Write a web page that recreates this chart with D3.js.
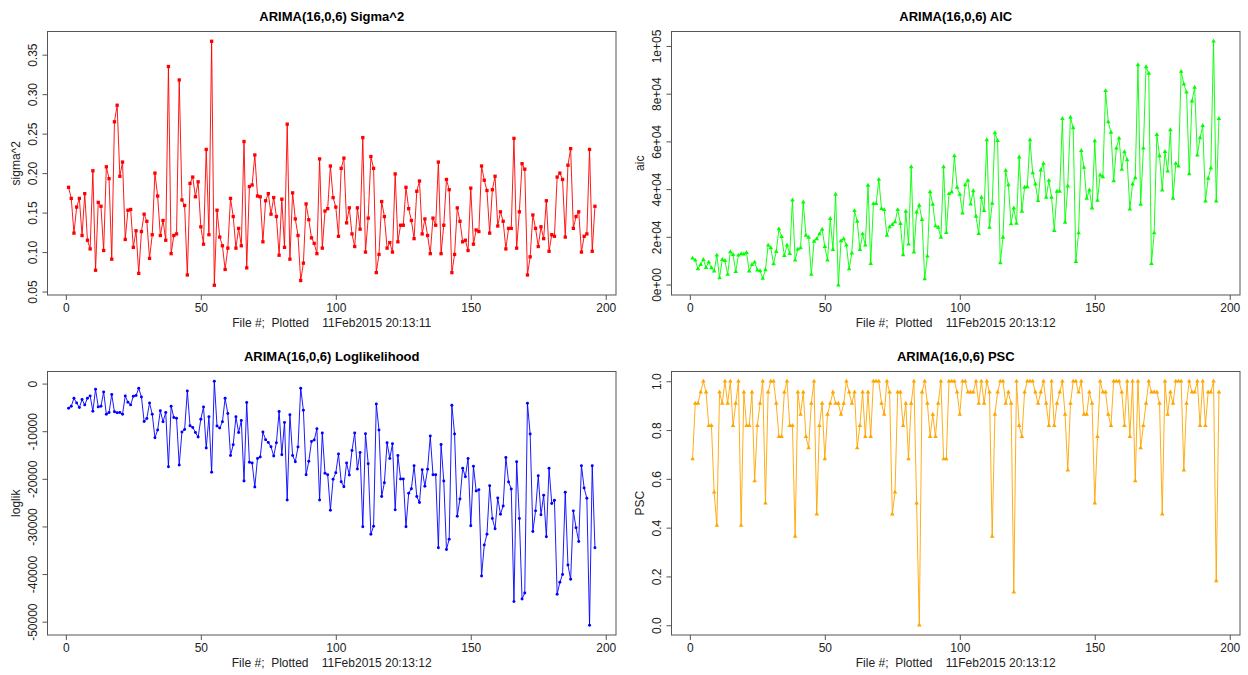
<!DOCTYPE html>
<html>
<head>
<meta charset="utf-8">
<script src="https://cdn.jsdelivr.net/npm/d3@7"></script>
<style>
  body { margin: 0; background: #fff; }
  svg { display: block; font-family: "Liberation Sans", Arial, sans-serif; }
</style>
</head>
<body>
<svg id="chart" width="1248" height="675"></svg>
<script>
'use strict';

// file numbers on the x axis
var fileNums = d3.range(1, 197);
var xTicks = [0, 50, 100, 150, 200];

var sigma2 = [
  0.182, 0.168, 0.124, 0.157, 0.168, 0.121, 0.174, 0.115, 0.104, 0.203,
  0.077, 0.163, 0.158, 0.102, 0.208, 0.193, 0.091, 0.265, 0.286, 0.196,
  0.214, 0.116, 0.153, 0.154, 0.106, 0.127, 0.073, 0.126, 0.148, 0.139,
  0.092, 0.122, 0.200, 0.171, 0.121, 0.140, 0.115, 0.335, 0.098, 0.121,
  0.123, 0.318, 0.166, 0.159, 0.071, 0.187, 0.195, 0.170, 0.189, 0.132,
  0.110, 0.230, 0.122, 0.367, 0.058, 0.153, 0.119, 0.108, 0.078, 0.105,
  0.168, 0.145, 0.105, 0.130, 0.108, 0.240, 0.080, 0.183, 0.185, 0.223,
  0.171, 0.170, 0.113, 0.165, 0.174, 0.148, 0.169, 0.145, 0.096, 0.167,
  0.106, 0.262, 0.091, 0.175, 0.142, 0.121, 0.064, 0.086, 0.161, 0.141,
  0.118, 0.111, 0.098, 0.218, 0.105, 0.152, 0.155, 0.209, 0.169, 0.157,
  0.120, 0.206, 0.219, 0.137, 0.156, 0.123, 0.107, 0.156, 0.129, 0.245,
  0.100, 0.143, 0.221, 0.206, 0.074, 0.097, 0.164, 0.145, 0.105, 0.112,
  0.100, 0.199, 0.113, 0.134, 0.134, 0.182, 0.155, 0.140, 0.117, 0.177,
  0.190, 0.123, 0.142, 0.121, 0.098, 0.143, 0.134, 0.214, 0.098, 0.134,
  0.192, 0.179, 0.074, 0.097, 0.156, 0.139, 0.113, 0.115, 0.102, 0.181,
  0.110, 0.128, 0.126, 0.209, 0.191, 0.178, 0.124, 0.179, 0.196, 0.133,
  0.151, 0.139, 0.104, 0.130, 0.130, 0.244, 0.105, 0.151, 0.212, 0.205,
  0.071, 0.094, 0.147, 0.130, 0.107, 0.132, 0.117, 0.165, 0.101, 0.122,
  0.120, 0.195, 0.200, 0.192, 0.119, 0.210, 0.231, 0.130, 0.145, 0.151,
  0.100, 0.120, 0.123, 0.230, 0.101, 0.158
];

var aic = [
  11000, 10170, 6550, 8360, 10450, 7100, 9330, 6970, 5570, 12260,
  2790, 10450, 10030, 4180, 13650, 12540, 5430, 12260, 12820, 12680,
  13370, 5570, 8360, 9330, 5990, 5710, 2510, 6130, 16440, 15320,
  8640, 13790, 23260, 20060, 12120, 16440, 12950, 35380, 10170, 14770,
  15320, 34550, 20620, 19780, 4180, 18110, 19080, 21170, 23120, 15880,
  10170, 27580, 14630, 37750, -300, 18250, 19080, 16440, 6550, 13090,
  30920, 26470, 14630, 21170, 16440, 41510, 8780, 33850, 33850, 44020,
  31760, 31340, 20620, 24100, 25070, 26190, 31340, 25490, 12400, 30650,
  16860, 49310, 13510, 30370, 33150, 27160, 2370, 11840, 38860, 33570,
  24520, 23960, 19780, 49310, 21730, 38030, 38730, 53910, 40680, 37750,
  29950, 41790, 43600, 33710, 39280, 28560, 21310, 36500, 30920, 60600,
  23960, 33990, 63520, 60320, 9050, 19780, 47780, 41790, 25350, 32040,
  25630, 53350, 30650, 40680, 40950, 60600, 46800, 42070, 35100, 47920,
  50710, 36500, 43600, 36500, 22570, 39000, 39000, 69510, 26050, 41230,
  70070, 65610, 9610, 21590, 56140, 49030, 36080, 39560, 32040, 60180,
  35240, 45830, 45130, 81210, 68120, 63800, 43460, 57110, 61290, 48200,
  55580, 52240, 31620, 42070, 44720, 92080, 33570, 57110, 91240, 88460,
  8780, 21590, 62820, 53910, 39560, 55720, 47500, 64770, 36080, 50710,
  49590, 89290, 84000, 80650, 46390, 76890, 82600, 54190, 61430, 66590,
  34960, 44440, 48760, 101970, 34960, 69510
];

var loglik = [
  -5170, -4750, -3070, -4050, -5030, -3350, -4470, -3070, -2580, -5790,
  -1190, -4890, -4750, -1750, -6420, -6070, -2300, -5930, -6140, -6070,
  -6420, -2580, -3910, -4470, -2650, -2510, -980, -2790, -7960, -7330,
  -4050, -6420, -11380, -9770, -5720, -8030, -6070, -17450, -4750, -7120,
  -7260, -17100, -10190, -9630, -1540, -8860, -9210, -10260, -11240, -7470,
  -4890, -13540, -6980, -18640, 490, -8930, -9350, -8030, -3070, -6280,
  -15080, -12840, -6980, -10260, -7750, -20450, -3980, -16540, -16680, -21710,
  -15710, -15430, -10190, -11800, -12350, -13260, -15220, -12420, -5860, -14940,
  -8170, -24430, -6560, -15080, -16400, -13330, -980, -5580, -19130, -16330,
  -12150, -11870, -9490, -24430, -10400, -18850, -19130, -26590, -20100, -18710,
  -14800, -20590, -21640, -16680, -19200, -14030, -10400, -17940, -14450, -30080,
  -10540, -16820, -31620, -29950, -4260, -9770, -23730, -20800, -12420, -15710,
  -12630, -26520, -15080, -20030, -20030, -30080, -23030, -22060, -17240, -23730,
  -24990, -18080, -21570, -18010, -11030, -19130, -19130, -34480, -12770, -20450,
  -34830, -32670, -4540, -10610, -27850, -24220, -17800, -19540, -15710, -29870,
  -17380, -22550, -22270, -40410, -33920, -31620, -21430, -28340, -30500, -24010,
  -27430, -25690, -15500, -20660, -22130, -45790, -16400, -28340, -45230, -43970,
  -4120, -10610, -31060, -26730, -19330, -27570, -23450, -32180, -17800, -25200,
  -24500, -44250, -41740, -40070, -22820, -38110, -41110, -26730, -30290, -33150,
  -17240, -21920, -24080, -50750, -17240, -34480
];

var psc = [
  0.682, 0.909, 0.909, 0.955, 1, 0.955, 0.818, 0.818, 0.545, 0.409,
  0.955, 0.909, 1, 0.909, 1, 0.818, 0.909, 1, 0.409, 0.955,
  0.818, 0.818, 0.955, 0.591, 0.818, 0.909, 1, 0.5, 0.955, 1,
  1, 0.909, 0.773, 0.773, 0.955, 1, 0.818, 0.818, 0.364, 0.955,
  0.864, 0.955, 0.773, 0.727, 0.909, 1, 0.455, 0.818, 0.909, 0.682,
  0.864, 0.909, 0.955, 0.909, 0.909, 0.864, 0.909, 1, 0.955, 0.909,
  0.955, 0.727, 0.818, 0.955, 0.773, 0.955, 0.773, 1, 1, 1,
  0.909, 0.864, 1, 0.955, 0.455, 0.545, 0.955, 0.955, 0.818, 0.909,
  0.682, 0.909, 1, 0.5, 0, 0.955, 1, 0.909, 0.773, 0.864,
  0.773, 0.909, 1, 0.682, 0.682, 1, 1, 1, 0.955, 0.864,
  1, 1, 0.955, 0.955, 0.955, 1, 0.909, 1, 0.909, 1,
  0.955, 0.364, 0.864, 0.955, 1, 1, 0.909, 0.955, 0.909, 0.136,
  1, 0.818, 0.773, 0.955, 1, 1, 1, 0.955, 0.909, 0.955,
  1, 0.909, 0.818, 1, 0.818, 0.909, 0.955, 1, 0.864, 0.636,
  0.909, 1, 1, 0.955, 1, 0.864, 0.864, 0.955, 0.909, 0.5,
  0.773, 1, 0.955, 0.955, 0.864, 0.818, 1, 1, 1, 0.955,
  0.818, 1, 0.773, 1, 0.591, 1, 0.727, 0.818, 0.909, 1,
  0.955, 0.955, 0.955, 0.909, 0.455, 1, 0.864, 0.955, 0.909, 1,
  1, 1, 0.636, 0.909, 1, 0.955, 0.955, 1, 0.818, 1,
  0.818, 0.955, 0.955, 1, 0.182, 0.955
];

var sigmaTicks = [0.05, 0.10, 0.15, 0.20, 0.25, 0.30, 0.35];
var sigmaTickLabels = ['0.05', '0.10', '0.15', '0.20', '0.25', '0.30', '0.35'];
var aicTicks = [0, 20000, 40000, 60000, 80000, 100000];
var aicTickLabels = ['0e+00', '2e+04', '4e+04', '6e+04', '8e+04', '1e+05'];
var loglikTicks = [0, -10000, -20000, -30000, -40000, -50000];
var loglikTickLabels = ['0', '-10000', '-20000', '-30000', '-40000', '-50000'];
var pscTicks = [0, 0.2, 0.4, 0.6, 0.8, 1.0];
var pscTickLabels = ['0.0', '0.2', '0.4', '0.6', '0.8', '1.0'];

var svg = d3.select('#chart');
var axisCol = '#555';
var textCol = '#222';

function drawPanel(p) {
  var g = svg.append('g').attr('transform', 'translate(' + p.left + ',' + p.top + ')');
  var w = p.width, h = p.height;

  // R style 4% padding on both axes
  var xExt = d3.extent(fileNums);
  var xPad = (xExt[1] - xExt[0]) * 0.04;
  var x = d3.scaleLinear().domain([xExt[0] - xPad, xExt[1] + xPad]).range([0, w]);
  var yExt = d3.extent(p.values);
  var yPad = (yExt[1] - yExt[0]) * 0.04;
  var y = d3.scaleLinear().domain([yExt[0] - yPad, yExt[1] + yPad]).range([h, 0]);

  var line = d3.line()
    .x(function(d, i) { return x(fileNums[i]); })
    .y(function(d) { return y(d); });

  g.append('path')
    .datum(p.values)
    .attr('d', line)
    .attr('fill', 'none')
    .attr('stroke', p.color)
    .attr('stroke-width', 0.9);

  var sym = d3.symbol().type(p.symbol).size(p.symSize);
  g.selectAll('.pt').data(p.values).enter().append('path')
    .attr('class', 'pt')
    .attr('d', sym)
    .attr('transform', function(d, i) { return 'translate(' + x(fileNums[i]) + ',' + y(d) + ')'; })
    .attr('fill', p.color);

  // box
  g.append('rect')
    .attr('x', 0).attr('y', 0).attr('width', w).attr('height', h)
    .attr('fill', 'none').attr('stroke', axisCol).attr('stroke-width', 1);

  var xAxis = g.append('g')
    .attr('transform', 'translate(0,' + h + ')')
    .call(d3.axisBottom(x).tickValues(xTicks).tickSize(5).tickPadding(3));
  xAxis.select('.domain').remove();
  xAxis.selectAll('line').attr('stroke', axisCol);
  xAxis.selectAll('text').attr('fill', textCol).style('font-size', '12px');

  var yAxis = g.append('g')
    .call(d3.axisLeft(y).tickValues(p.ticks).tickSize(5)
      .tickFormat(function(d, i) { return p.tickLabels[i]; }));
  yAxis.select('.domain').remove();
  yAxis.selectAll('line').attr('stroke', axisCol);
  yAxis.selectAll('text')
    .attr('transform', 'rotate(-90)')
    .attr('x', 0)
    .attr('y', -11)
    .attr('dy', 0)
    .attr('fill', textCol)
    .style('text-anchor', 'middle')
    .style('font-size', '12px');

  g.append('text')
    .attr('x', w / 2).attr('y', -11)
    .attr('text-anchor', 'middle')
    .attr('fill', '#000')
    .style('font-size', '13px')
    .style('font-weight', 'bold')
    .text(p.title);

  g.append('text')
    .attr('x', w / 2).attr('y', h + 32)
    .attr('text-anchor', 'middle')
    .attr('fill', textCol)
    .style('font-size', '12px')
    .style('white-space', 'pre')
    .attr('xml:space', 'preserve')
    .text(p.xlab);

  g.append('text')
    .attr('transform', 'translate(-28,' + (h / 2) + ') rotate(-90)')
    .attr('text-anchor', 'middle')
    .attr('fill', textCol)
    .style('font-size', '12px')
    .text(p.ylab);
}

drawPanel({
  left: 47.5, top: 31.5, width: 568.5, height: 263.5,
  values: sigma2, color: '#ff0000', symbol: d3.symbolSquare, symSize: 11,
  ticks: sigmaTicks, tickLabels: sigmaTickLabels,
  title: 'ARIMA(16,0,6) Sigma^2', ylab: 'sigma^2',
  xlab: 'File #;  Plotted    11Feb2015 20:13:11'
});

drawPanel({
  left: 671.5, top: 31.5, width: 568.5, height: 263.5,
  values: aic, color: '#00ff00', symbol: d3.symbolTriangle, symSize: 9,
  ticks: aicTicks, tickLabels: aicTickLabels,
  title: 'ARIMA(16,0,6) AIC', ylab: 'aic',
  xlab: 'File #;  Plotted    11Feb2015 20:13:12'
});

drawPanel({
  left: 47.5, top: 371.5, width: 568.5, height: 263.5,
  values: loglik, color: '#0000ff', symbol: d3.symbolCircle, symSize: 7,
  ticks: loglikTicks, tickLabels: loglikTickLabels,
  title: 'ARIMA(16,0,6) Loglikelihood', ylab: 'loglik',
  xlab: 'File #;  Plotted    11Feb2015 20:13:12'
});

drawPanel({
  left: 671.5, top: 371.5, width: 568.5, height: 263.5,
  values: psc, color: '#ffa500', symbol: d3.symbolTriangle, symSize: 9,
  ticks: pscTicks, tickLabels: pscTickLabels,
  title: 'ARIMA(16,0,6) PSC', ylab: 'PSC',
  xlab: 'File #;  Plotted    11Feb2015 20:13:12'
});
</script>
</body>
</html>
